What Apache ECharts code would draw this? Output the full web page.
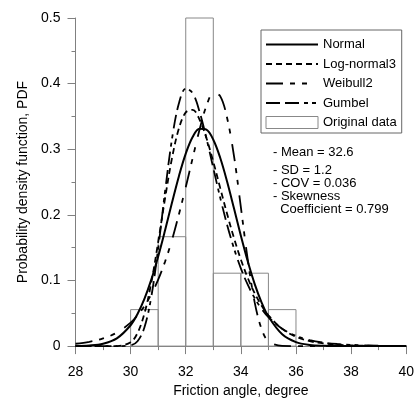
<!DOCTYPE html>
<html><head><meta charset="utf-8">
<script src="https://cdn.jsdelivr.net/npm/echarts@6/dist/echarts.min.js"></script>
<style>html,body{margin:0;padding:0;background:#fff}#c{width:417px;height:403px}</style>
</head><body><div id="c"></div>
<script>
var xs = [28,28.5,29,29.5,30,30.25,30.5,30.75,31,31.25,31.5,31.75,32,32.25,32.5,32.75,33,33.25,33.5,33.75,34,34.25,34.5,34.75,35,35.5,36,36.5,37,37.5,38,39,40];
var normalPdf = [0.0002,0.001,0.0037,0.0118,0.0318,0.0489,0.0719,0.1013,0.1366,0.1765,0.2184,0.2586,0.2933,0.3186,0.3312,0.3298,0.3144,0.2870,0.2509,0.2100,0.1683,0.1292,0.0949,0.0668,0.0450,0.0179,0.0060,0.0017,0.0004,0.0001,0,0,0];
var lognormalPdf = [0,0,0,0.0001,0.0060,0.0200,0.0494,0.0968,0.1584,0.2253,0.2861,0.3314,0.3562,0.3600,0.3453,0.3172,0.2809,0.2411,0.2016,0.1647,0.1319,0.1039,0.0807,0.0619,0.0470,0.0263,0.0143,0.0076,0.0040,0.0021,0.0011,0.0003,0.0001];
var weibullPdf = [0.0036,0.0065,0.0117,0.0206,0.0358,0.0469,0.0611,0.0790,0.1014,0.1288,0.1616,0.2005,0.2422,0.2863,0.3296,0.3659,0.3850,0.3810,0.3479,0.2900,0.2117,0.1319,0.0670,0.0263,0.0074,0.0002,0,0,0,0,0,0,0];
var gumbelPdf = [0,0,0,0,0.0011,0.0073,0.0283,0.0751,0.1489,0.2358,0.3153,0.3697,0.3923,0.3856,0.3575,0.3169,0.2713,0.2263,0.1851,0.1490,0.1185,0.0935,0.0732,0.0570,0.0442,0.0264,0.0156,0.0092,0.0054,0.0032,0.0019,0.0006,0.0002];
var histEdges = [30,31,32,33,34,35,36];
var histValues = [0.0556,0.1667,0.5,0.1111,0.1111,0.0556];
var statLines = ['- Mean = 32.6','- SD = 1.2','- COV = 0.036','- Skewness','  Coefficient = 0.799'];

var FONT = 'Liberation Sans, Arial, sans-serif';
function pairs(ys){ return xs.map(function(x,i){ return [x, ys[i]]; }); }
var histData = histValues.map(function(v,i){ return [histEdges[i], histEdges[i+1], v]; });

var chart = echarts.init(document.getElementById('c'), null, {renderer:'canvas'});
function lineSeries(name, ys, dash, w){
  return {name:name, type:'line', data:pairs(ys), smooth:0.35, symbol:'none', z:5,
    lineStyle:{color:'#000', width:w, type:dash}, itemStyle:{color:'#000'}};
}
var statY = [153,171,184,197,210];
var option = {
  animation:false,
  backgroundColor:'#fff',
  grid:{left:75.5, right:8, top:18, bottom:50, containLabel:false},
  xAxis:{type:'value', min:28, max:40, interval:2,
    name:'Friction angle, degree', nameLocation:'middle', nameGap:37,
    nameTextStyle:{fontSize:14, fontFamily:FONT, color:'#000'},
    axisLine:{show:true, onZero:false, lineStyle:{color:'#808080', width:1}},
    axisTick:{show:true, inside:false, length:8, lineStyle:{color:'#808080'}},
    minorTick:{show:true, splitNumber:2, length:4, lineStyle:{color:'#808080'}},
    splitLine:{show:false},
    axisLabel:{margin:19, fontSize:14, fontFamily:FONT, color:'#000'}},
  yAxis:{type:'value', min:0, max:0.5, interval:0.1,
    name:'Probability density function, PDF', nameLocation:'middle', nameGap:45,
    nameTextStyle:{fontSize:14, fontFamily:FONT, color:'#000'},
    axisLine:{show:true, onZero:false, lineStyle:{color:'#808080', width:1}},
    axisTick:{show:true, inside:false, length:8, lineStyle:{color:'#808080'}},
    minorTick:{show:true, splitNumber:2, length:4, lineStyle:{color:'#808080'}},
    splitLine:{show:false},
    axisLabel:{margin:15, fontSize:14, fontFamily:FONT, color:'#000',
      formatter:function(v){ return v===0?'0':v.toFixed(1); }}},
  legend:{orient:'vertical', left:261, top:30, itemWidth:52, itemHeight:12, itemGap:6.5,
    padding:[8,5,4,4], borderColor:'#666', borderWidth:1, backgroundColor:'#fff',
    itemStyle:{color:'rgba(0,0,0,0)', borderWidth:0, opacity:0},
    textStyle:{fontSize:13, fontFamily:FONT, color:'#000'},
    data:[{name:'Normal'},{name:'Log-normal3'},{name:'Weibull2'},{name:'Gumbel'},
      {name:'Original data', icon:'rect', itemStyle:{color:'#fff', borderColor:'#888', borderWidth:1, opacity:1}}]},
  graphic: statLines.map(function(t,i){
    return {type:'text', left:273, top:statY[i]-7, z:100,
      style:{text:t, font:'13px '+FONT, fill:'#000'}};
  }),
  series:[
    {name:'Original data', type:'custom', data:histData, encode:{x:[0,1], y:2}, z:1,
      itemStyle:{color:'#fff', borderColor:'#888', borderWidth:1},
      renderItem:function(params, api){
        var p0 = api.coord([api.value(0), 0]);
        var p1 = api.coord([api.value(1), api.value(2)]);
        return {type:'rect', shape:{x:p0[0], y:p1[1], width:p1[0]-p0[0], height:p0[1]-p1[1]},
          style:{fill:'none', stroke:'#888', lineWidth:1}};
      }},
    lineSeries('Normal', normalPdf, 'solid', 2),
    lineSeries('Log-normal3', lognormalPdf, [6,4], 1.8),
    lineSeries('Weibull2', weibullPdf, [17,7,5,7,5,11], 1.8),
    lineSeries('Gumbel', gumbelPdf, [14,5,14,5,4,4,4,6], 1.8)
  ]
};
chart.setOption(option);
</script></body></html>
